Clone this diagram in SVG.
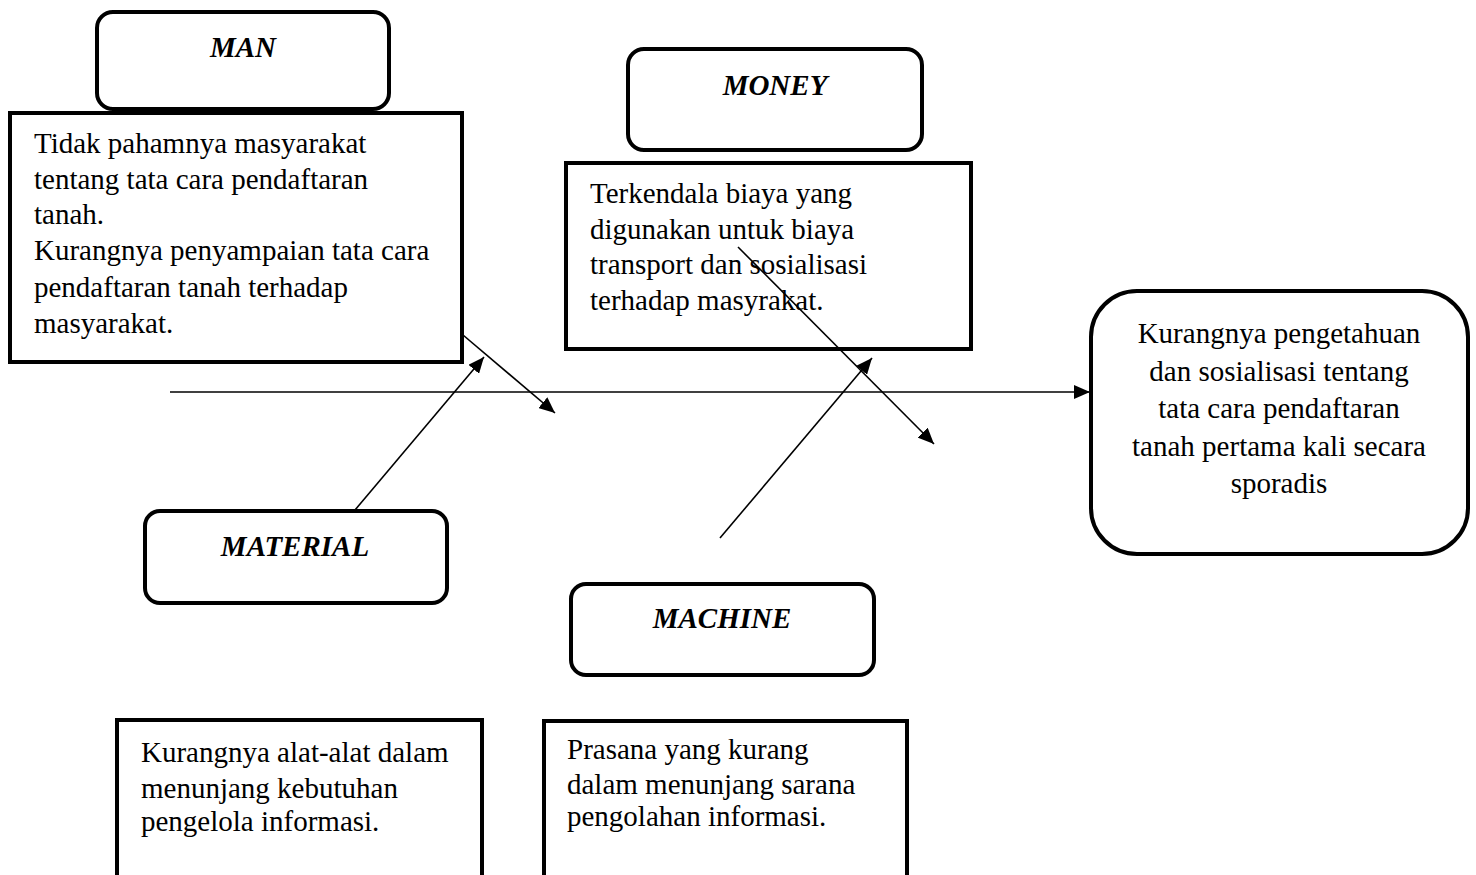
<svg xmlns="http://www.w3.org/2000/svg" width="1476" height="875" viewBox="0 0 1476 875">
<style>
.box{fill:#fff;stroke:#000;stroke-width:4}
.t{font-family:"Liberation Serif","Times New Roman",serif;font-size:29px;fill:#000}
.lbl{font-family:"Liberation Serif","Times New Roman",serif;font-size:29px;font-weight:bold;font-style:italic;fill:#000;text-anchor:middle}
.c{text-anchor:middle}
.ln{stroke:#000;stroke-width:1.6;fill:none}
</style>
<defs>
<marker id="ah" markerUnits="userSpaceOnUse" markerWidth="18" markerHeight="14" refX="16" refY="7" orient="auto">
<path d="M0,0 L16,7 L0,14 Z" fill="#000"/>
</marker>
</defs>
<rect width="1476" height="875" fill="#fff"/>
<g id="man">
<rect class="box" x="97" y="12" width="292" height="97" rx="16"/>
<text class="lbl" x="243" y="57">MAN</text>
</g>
<g id="man-text">
<rect class="box" x="10" y="113" width="452" height="249"/>
<text class="t" x="34" y="153">Tidak pahamnya masyarakat</text>
<text class="t" x="34" y="189">tentang tata cara pendaftaran</text>
<text class="t" x="34" y="224">tanah.</text>
<text class="t" x="34" y="260">Kurangnya penyampaian tata cara</text>
<text class="t" x="34" y="297">pendaftaran tanah terhadap</text>
<text class="t" x="34" y="333">masyarakat.</text>
</g>
<g id="money">
<rect class="box" x="628" y="49" width="294" height="101" rx="16"/>
<text class="lbl" x="775" y="95">MONEY</text>
</g>
<g id="money-text">
<rect class="box" x="566" y="163" width="405" height="186"/>
<text class="t" x="590" y="203">Terkendala biaya yang</text>
<text class="t" x="590" y="239">digunakan untuk biaya</text>
<text class="t" x="590" y="274">transport dan sosialisasi</text>
<text class="t" x="590" y="310">terhadap masyrakat.</text>
</g>
<g id="result">
<rect class="box" x="1091" y="291" width="377" height="263" rx="46" stroke-width="4.5"/>
<text class="t c" x="1279" y="343">Kurangnya pengetahuan</text>
<text class="t c" x="1279" y="381">dan sosialisasi tentang</text>
<text class="t c" x="1279" y="418">tata cara pendaftaran</text>
<text class="t c" x="1279" y="456">tanah pertama kali secara</text>
<text class="t c" x="1279" y="493">sporadis</text>
</g>
<g id="material">
<rect class="box" x="145" y="511" width="302" height="92" rx="15"/>
<text class="lbl" x="295" y="556">MATERIAL</text>
</g>
<g id="machine">
<rect class="box" x="571" y="584" width="303" height="91" rx="15"/>
<text class="lbl" x="722" y="628">MACHINE</text>
</g>
<g id="material-text">
<rect class="box" x="117" y="720" width="365" height="170"/>
<text class="t" x="141" y="762">Kurangnya alat-alat dalam</text>
<text class="t" x="141" y="798">menunjang kebutuhan</text>
<text class="t" x="141" y="831">pengelola informasi.</text>
</g>
<g id="machine-text">
<rect class="box" x="544" y="721" width="363" height="170"/>
<text class="t" x="567" y="759">Prasana yang kurang</text>
<text class="t" x="567" y="794">dalam menunjang sarana</text>
<text class="t" x="567" y="826">pengolahan informasi.</text>
</g>
<g id="connectors">
<line class="ln" x1="170" y1="392" x2="1090" y2="392" marker-end="url(#ah)"/>
<line class="ln" x1="463" y1="335" x2="555" y2="413" marker-end="url(#ah)"/>
<line class="ln" x1="355" y1="510" x2="484" y2="357" marker-end="url(#ah)"/>
<line class="ln" x1="738" y1="247" x2="934" y2="444" marker-end="url(#ah)"/>
<line class="ln" x1="720" y1="538" x2="872" y2="358" marker-end="url(#ah)"/>
</g>
</svg>
